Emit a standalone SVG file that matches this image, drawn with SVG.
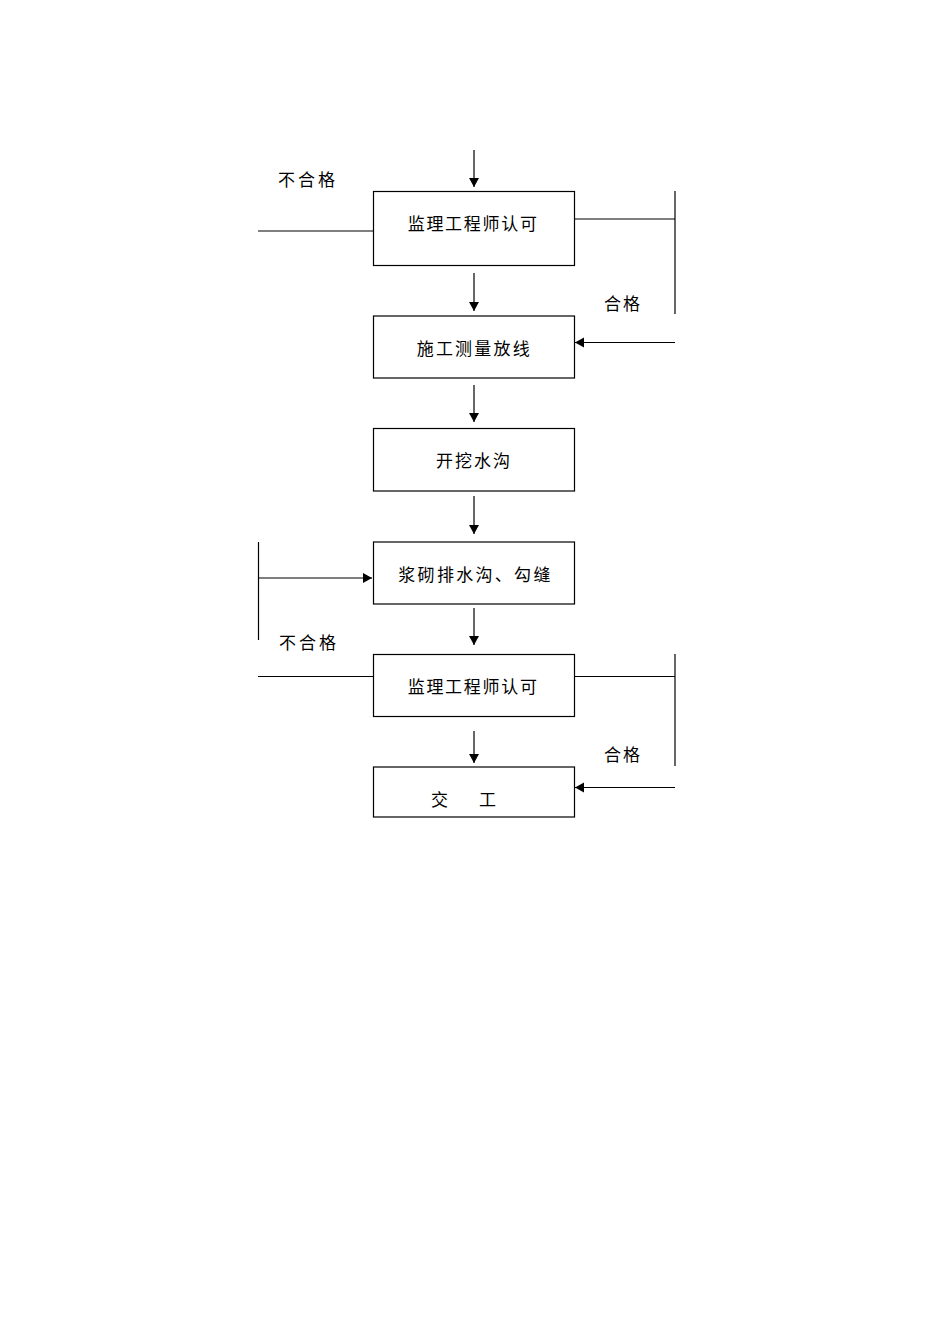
<svg xmlns="http://www.w3.org/2000/svg" width="950" height="1344" viewBox="0 0 950 1344">
<style>
.box{fill:#fff;stroke:#000;stroke-width:1.2}
.ln{fill:none;stroke:#000;stroke-width:1.2}
.t{font-family:"Noto Sans CJK SC","Liberation Sans",sans-serif;font-size:17px;fill:#000}
</style>
<defs>
<marker id="ah" markerWidth="10" markerHeight="12" refX="9" refY="5.5" orient="auto" markerUnits="userSpaceOnUse">
<path d="M0,0.5 L9,5.5 L0,10.5 Z" fill="#000"/>
</marker>
</defs>
<rect width="950" height="1344" fill="#fff"/>
<g id="connectors">
<line class="ln" x1="474" y1="150" x2="474" y2="187" marker-end="url(#ah)"/>
<line class="ln" x1="474" y1="273" x2="474" y2="311" marker-end="url(#ah)"/>
<line class="ln" x1="474" y1="385" x2="474" y2="422" marker-end="url(#ah)"/>
<line class="ln" x1="474" y1="496" x2="474" y2="534" marker-end="url(#ah)"/>
<line class="ln" x1="474" y1="608" x2="474" y2="645" marker-end="url(#ah)"/>
<line class="ln" x1="474" y1="731" x2="474" y2="763" marker-end="url(#ah)"/>
<line class="ln" x1="258" y1="231" x2="373" y2="231"/>
<line class="ln" x1="574" y1="219" x2="675" y2="219"/>
<line class="ln" x1="675" y1="191" x2="675" y2="314"/>
<line class="ln" x1="675" y1="342.5" x2="575" y2="342.5" marker-end="url(#ah)"/>
<line class="ln" x1="258.5" y1="542" x2="258.5" y2="640"/>
<line class="ln" x1="258.5" y1="578" x2="372" y2="578" marker-end="url(#ah)"/>
<line class="ln" x1="258" y1="676.5" x2="373" y2="676.5"/>
<line class="ln" x1="574" y1="676.5" x2="675" y2="676.5"/>
<line class="ln" x1="675" y1="654" x2="675" y2="766"/>
<line class="ln" x1="675" y1="787.5" x2="575" y2="787.5" marker-end="url(#ah)"/>
</g>
<g id="n1"><rect class="box" x="373.5" y="191.5" width="201" height="74"/><text class="t" x="407.7" y="230" letter-spacing="1.7">监理工程师认可</text></g>
<g id="n2"><rect class="box" x="373.5" y="316" width="201" height="62"/><text class="t" x="416.7" y="354.5" letter-spacing="2.2">施工测量放线</text></g>
<g id="n3"><rect class="box" x="373.5" y="428.5" width="201" height="62.5"/><text class="t" x="436" y="467" letter-spacing="2">开挖水沟</text></g>
<g id="n4"><rect class="box" x="373.5" y="542" width="201" height="62"/><text class="t" x="398.3" y="580.5" letter-spacing="2.3">浆砌排水沟、勾缝</text></g>
<g id="n5"><rect class="box" x="373.5" y="654.5" width="201" height="62"/><text class="t" x="407.7" y="693" letter-spacing="1.7">监理工程师认可</text></g>
<g id="n6"><rect class="box" x="373.5" y="767" width="201" height="50"/><text class="t" y="806"><tspan x="431">交</tspan><tspan x="479">工</tspan></text></g>
<g id="labels">
<text class="t" x="278" y="185.5" letter-spacing="3">不合格</text>
<text class="t" x="279" y="649" letter-spacing="3">不合格</text>
<text class="t" x="604" y="310" letter-spacing="2">合格</text>
<text class="t" x="604" y="761" letter-spacing="2">合格</text>
</g>
</svg>
